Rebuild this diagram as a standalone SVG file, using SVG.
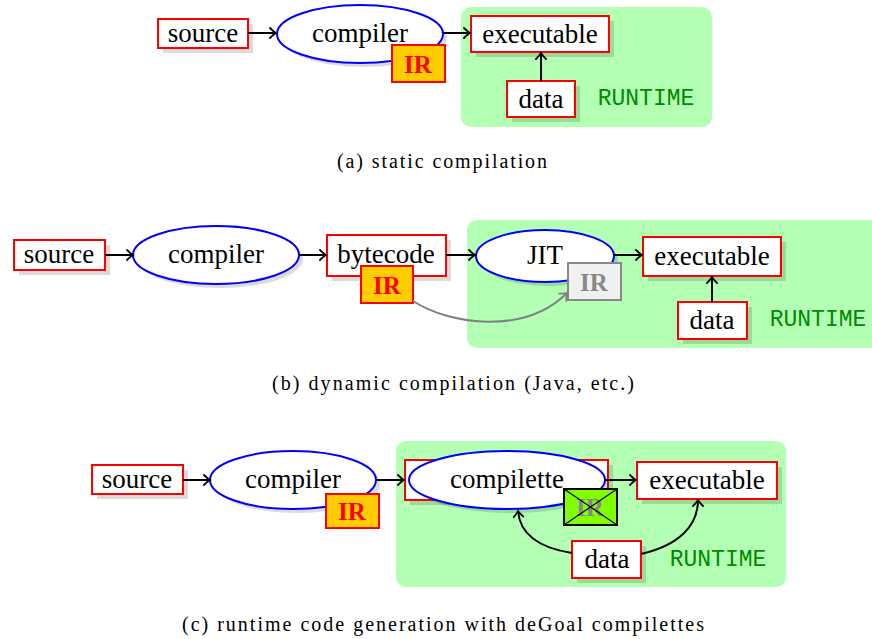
<svg xmlns="http://www.w3.org/2000/svg" width="872" height="639" viewBox="0 0 872 639">
<style>
.bg{fill:#ffffff}
.rt{fill:#b3ffb3}
.box{fill:#ffffff;stroke:#ff0000;stroke-width:2}
.ell{fill:#ffffff;stroke:#0000ff;stroke-width:2}
.sh{fill:#000000;fill-opacity:0.14}
.t{font-family:"Liberation Serif","DejaVu Serif",serif;font-size:27px;fill:#000;text-anchor:middle;dominant-baseline:central}
.ir{fill:#ffcc00;stroke:#ff0000;stroke-width:2}
.irt{font-family:"Liberation Serif","DejaVu Serif",serif;font-size:25px;font-weight:bold;fill:#ff0000;text-anchor:middle;dominant-baseline:central}
.irg{fill:#f0f0f0;stroke:#888888;stroke-width:2}
.irgt{font-family:"Liberation Serif","DejaVu Serif",serif;font-size:25px;font-weight:bold;fill:#888888;text-anchor:middle;dominant-baseline:central}
.rtt{font-family:"Liberation Mono","DejaVu Sans Mono",monospace;font-size:23px;fill:#008a00;text-anchor:middle;dominant-baseline:central}
.cap{font-family:"Liberation Serif","DejaVu Serif",serif;font-size:20px;fill:#000;text-anchor:middle}
.c{fill:none;stroke:#000;stroke-width:2;marker-end:url(#arr)}
.cg{fill:none;stroke:#808080;stroke-width:2;marker-end:url(#arrg)}
</style>
<defs>
<marker id="arr" viewBox="-8 -6 10 12" markerWidth="10" markerHeight="12" refX="0" refY="0" orient="auto" markerUnits="userSpaceOnUse">
<path d="M-6,-5 Q-2,-1 0,0 Q-2,1 -6,5" fill="none" stroke="#000" stroke-width="1.8" stroke-linecap="round"/>
</marker>
<marker id="arrg" viewBox="-8 -6 10 12" markerWidth="10" markerHeight="12" refX="0" refY="0" orient="auto" markerUnits="userSpaceOnUse">
<path d="M-6,-5 Q-2,-1 0,0 Q-2,1 -6,5" fill="none" stroke="#808080" stroke-width="1.8" stroke-linecap="round"/>
</marker>
</defs>
<rect class="bg" x="0" y="0" width="872" height="639"/>

<!-- (a) static compilation -->
<rect id="a-runtime" class="rt" x="461" y="7" width="251" height="120" rx="10"/>
<g id="a-source"><rect class="sh" x="163" y="24" width="90" height="29"/><rect class="box" x="158" y="19" width="90" height="29"/><text class="t" x="203" y="33">source</text></g>
<g id="a-compiler"><ellipse class="sh" cx="364" cy="38" rx="83" ry="29"/><ellipse class="ell" cx="360" cy="34" rx="83" ry="29"/><text class="t" x="360" y="33">compiler</text></g>
<g id="a-ir"><rect class="ir" x="392" y="45" width="53" height="37"/><text class="irt" x="418" y="64">IR</text></g>
<g id="a-executable"><rect class="sh" x="476" y="21" width="138" height="36"/><rect class="box" x="471" y="16" width="138" height="36"/><text class="t" x="540" y="34">executable</text></g>
<g id="a-data"><rect class="sh" x="512" y="86" width="68" height="36"/><rect class="box" x="507" y="81" width="68" height="36"/><text class="t" x="541" y="99">data</text></g>
<text id="a-rtlabel" class="rtt" x="646" y="99">RUNTIME</text>
<text id="a-caption" class="cap" x="442" y="168" textLength="210" lengthAdjust="spacing">(a) static compilation</text>

<!-- (b) dynamic compilation -->
<rect id="b-runtime" class="rt" x="467" y="220" width="420" height="128" rx="10"/>
<g id="b-source"><rect class="sh" x="19" y="245" width="91" height="30"/><rect class="box" x="14" y="240" width="91" height="30"/><text class="t" x="59" y="254">source</text></g>
<g id="b-compiler"><ellipse class="sh" cx="220" cy="259" rx="83" ry="29"/><ellipse class="ell" cx="216" cy="255" rx="83" ry="29"/><text class="t" x="216" y="254">compiler</text></g>
<g id="b-bytecode"><rect class="sh" x="332" y="240" width="119" height="41"/><rect class="box" x="327" y="235" width="119" height="41"/><text class="t" x="386" y="254">bytecode</text></g>
<g id="b-ir"><rect class="ir" x="361" y="266" width="52" height="37"/><text class="irt" x="387" y="285">IR</text></g>
<g id="b-jit"><ellipse class="sh" cx="549" cy="260" rx="69" ry="26"/><ellipse class="ell" cx="545" cy="256" rx="69" ry="26"/><text class="t" x="545" y="255">JIT</text></g>
<g id="b-ir2"><rect class="irg" x="568" y="263" width="53" height="37"/><text class="irgt" x="594" y="282">IR</text></g>
<g id="b-executable"><rect class="sh" x="648" y="242" width="138" height="39"/><rect class="box" x="643" y="237" width="138" height="39"/><text class="t" x="712" y="256">executable</text></g>
<g id="b-data"><rect class="sh" x="683" y="307" width="69" height="37"/><rect class="box" x="678" y="302" width="69" height="37"/><text class="t" x="712" y="320">data</text></g>
<text id="b-rtlabel" class="rtt" x="818" y="320">RUNTIME</text>
<text id="b-caption" class="cap" x="453" y="390" textLength="362" lengthAdjust="spacing">(b) dynamic compilation (Java, etc.)</text>

<!-- (c) runtime code generation -->
<rect id="c-runtime" class="rt" x="396" y="441" width="390" height="146" rx="10"/>
<g id="c-source"><rect class="sh" x="97" y="470" width="91" height="29"/><rect class="box" x="92" y="465" width="91" height="29"/><text class="t" x="137" y="479">source</text></g>
<g id="c-compiler"><ellipse class="sh" cx="297" cy="484" rx="83" ry="29"/><ellipse class="ell" cx="293" cy="480" rx="83" ry="29"/><text class="t" x="293" y="479">compiler</text></g>
<g id="c-ir"><rect class="ir" x="326" y="494" width="53" height="34"/><text class="irt" x="352" y="511">IR</text></g>
<g id="c-compilette"><rect class="sh" x="410" y="465" width="203" height="40"/><rect class="box" x="405" y="460" width="203" height="40"/><ellipse class="sh" cx="511" cy="484" rx="98" ry="29"/><ellipse class="ell" cx="507" cy="480" rx="98" ry="29"/><text class="t" x="507" y="479">compilette</text></g>
<g id="c-ir2"><rect x="564" y="489" width="53" height="36" fill="#80ff00" stroke="#000" stroke-width="2"/><text class="irgt" x="590" y="507">IR</text><path d="M564,489 L617,525 M617,489 L564,525" stroke="#000" stroke-width="1.2" fill="none"/></g>
<g id="c-executable"><rect class="sh" x="642" y="467" width="140" height="37"/><rect class="box" x="637" y="462" width="140" height="37"/><text class="t" x="707" y="480">executable</text></g>
<g id="c-data"><rect class="sh" x="577" y="546" width="69" height="37"/><rect class="box" x="572" y="541" width="69" height="37"/><text class="t" x="607" y="559">data</text></g>
<text id="c-rtlabel" class="rtt" x="718" y="560">RUNTIME</text>
<text id="c-caption" class="cap" x="443" y="631" textLength="522" lengthAdjust="spacing">(c) runtime code generation with deGoal compilettes</text>

<g id="connectors">
<path class="c" d="M248,33 L276,33"/>
<path class="c" d="M443,33 L470,33"/>
<path class="c" d="M541,81 L541,53"/>
<path class="c" d="M105,255 L133,255"/>
<path class="c" d="M299,255 L326,255"/>
<path class="c" d="M446,255 L475,255"/>
<path class="c" d="M614,255 L642,255"/>
<path class="c" d="M712,302 L712,277"/>
<path class="cg" d="M413,301 C450,325 525,335 567,293"/>
<path class="c" d="M183,480 L210,480"/>
<path class="c" d="M376,480 L404,480"/>
<path class="c" d="M605,480 L636,480"/>
<path class="c" d="M572,553 C540,548 520,535 518,511"/>
<path class="c" d="M641,554 C680,545 698,525 698,500"/>
</g>
</svg>
